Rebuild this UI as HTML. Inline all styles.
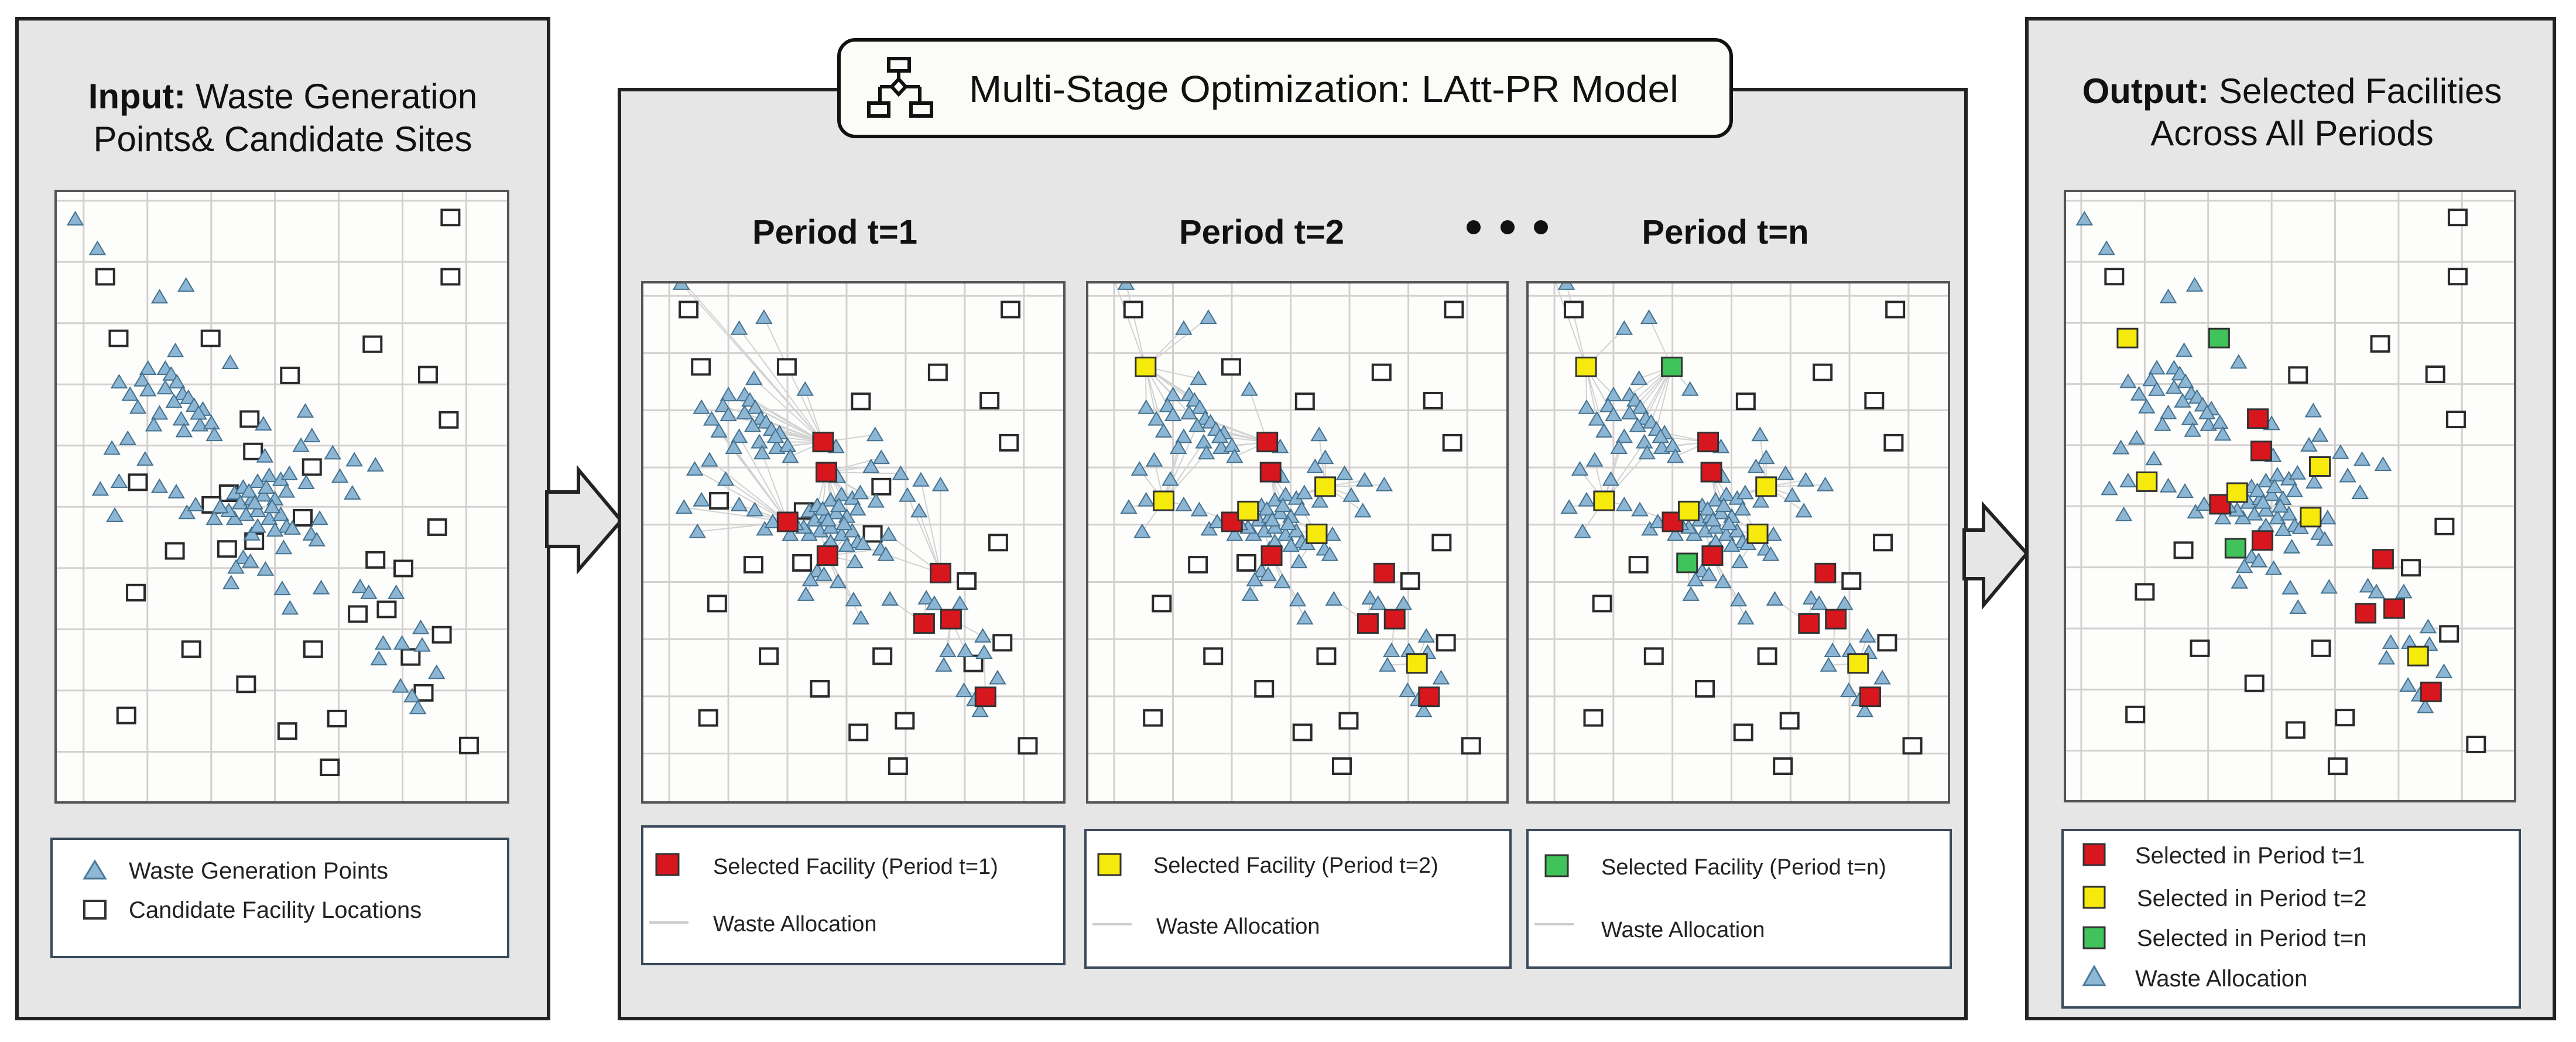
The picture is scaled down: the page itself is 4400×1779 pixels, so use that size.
<!DOCTYPE html>
<html><head><meta charset="utf-8"><title>LAtt-PR multi-stage facility selection</title>
<style>
html,body{margin:0;padding:0;background:#fff;}
svg{display:block;font-family:"Liberation Sans",sans-serif;}
</style></head>
<body>
<svg id="fig" width="4400" height="1779" viewBox="0 0 4400 1779" xmlns="http://www.w3.org/2000/svg">
  <defs>
    <clipPath id="clipL"><rect x="95" y="326" width="773" height="1044"/></clipPath>
    <clipPath id="clipT1"><rect x="1097" y="482" width="721" height="888"/></clipPath>
    <clipPath id="clipT2"><rect x="1857" y="482" width="718" height="888"/></clipPath>
    <clipPath id="clipTn"><rect x="2609" y="482" width="720" height="888"/></clipPath>
    <clipPath id="clipR"><rect x="3527" y="326" width="769" height="1042"/></clipPath>
  </defs>

  <rect x="29" y="32" width="908" height="1707" fill="#e6e6e6" stroke="#222" stroke-width="6"/>
  <text x="483" y="185" text-anchor="middle" font-size="60" fill="#111"><tspan font-weight="bold">Input:</tspan> Waste Generation</text>
  <text x="483" y="258" text-anchor="middle" font-size="60" fill="#111">Points&amp; Candidate Sites</text>

  <polygon points="934,840 988,840 988,802 1061,889 988,973 988,933 934,933" fill="#e6e6e6" stroke="#222" stroke-width="6"/>

  <rect x="1058" y="153" width="2300" height="1586" fill="#e6e6e6" stroke="#222" stroke-width="6"/>
  <rect x="1433" y="68" width="1524" height="165" rx="28" fill="#fbfbf8" stroke="#111" stroke-width="6"/>
  <g fill="none" stroke="#111" stroke-width="6">
    <rect x="1518" y="100" width="35" height="21"/>
    <line x1="1535" y1="121" x2="1535" y2="136"/>
    <polygon points="1535,135 1547,148 1535,161 1523,148" fill="#fff"/>
    <line x1="1503" y1="148" x2="1523" y2="148"/>
    <line x1="1547" y1="148" x2="1571" y2="148"/>
    <line x1="1503" y1="148" x2="1503" y2="176"/>
    <line x1="1571" y1="148" x2="1571" y2="176"/>
    <rect x="1484" y="176" width="34" height="22"/>
    <rect x="1556" y="176" width="35" height="22"/>
  </g>
  <text x="1655" y="174" font-size="64" fill="#111" textLength="1212" lengthAdjust="spacingAndGlyphs">Multi-Stage Optimization: LAtt-PR Model</text>

  <text x="1426" y="416" text-anchor="middle" font-size="58" font-weight="bold" fill="#111">Period t=1</text>
  <text x="2155" y="416" text-anchor="middle" font-size="58" font-weight="bold" fill="#111">Period t=2</text>
  <g fill="#111">
    <circle cx="2517" cy="388" r="12"/><circle cx="2575" cy="388" r="12"/><circle cx="2632" cy="388" r="12"/>
  </g>
  <text x="2947" y="416" text-anchor="middle" font-size="58" font-weight="bold" fill="#111">Period t=n</text>

  <polygon points="3355,905 3388,905 3388,863 3462,945 3388,1033 3388,988 3355,988" fill="#e6e6e6" stroke="#222" stroke-width="6"/>

  <rect x="3462" y="32" width="901" height="1707" fill="#e6e6e6" stroke="#222" stroke-width="6"/>
  <text x="3915" y="176" text-anchor="middle" font-size="60" fill="#111"><tspan font-weight="bold">Output:</tspan> Selected Facilities</text>
  <text x="3915" y="248" text-anchor="middle" font-size="60" fill="#111">Across All Periods</text>

  <g id="plots"></g>

  <g>
    <rect x="88" y="1432" width="780" height="202" fill="#fff" stroke="#3a4a5a" stroke-width="4"/>
    <polygon points="162,1470 144,1500 180,1500" fill="#8fb8d6" stroke="#4a7a9a" stroke-width="3"/>
    <text x="220" y="1500" font-size="40" fill="#222">Waste Generation Points</text>
    <rect x="144" y="1538" width="36" height="30" fill="#fff" stroke="#333" stroke-width="4"/>
    <text x="220" y="1567" font-size="40" fill="#222">Candidate Facility Locations</text>
  </g>

  <g>
    <rect x="1097" y="1411" width="721" height="235" fill="#fff" stroke="#3a4a5a" stroke-width="4"/>
    <rect x="1121" y="1458" width="38" height="36" fill="#d8161e" stroke="#333" stroke-width="3"/>
    <text x="1218" y="1492" font-size="38" fill="#222">Selected Facility (Period t=1)</text>
    <line x1="1109" y1="1575" x2="1176" y2="1575" stroke="#ccc" stroke-width="4"/>
    <text x="1218" y="1590" font-size="38" fill="#222">Waste Allocation</text>
  </g>
  <g>
    <rect x="1854" y="1417" width="726" height="235" fill="#fff" stroke="#3a4a5a" stroke-width="4"/>
    <rect x="1876" y="1458" width="38" height="36" fill="#f5ea0c" stroke="#333" stroke-width="3"/>
    <text x="1970" y="1490" font-size="38" fill="#222">Selected Facility (Period t=2)</text>
    <line x1="1866" y1="1578" x2="1933" y2="1578" stroke="#ccc" stroke-width="4"/>
    <text x="1975" y="1594" font-size="38" fill="#222">Waste Allocation</text>
  </g>
  <g>
    <rect x="2609" y="1417" width="723" height="235" fill="#fff" stroke="#3a4a5a" stroke-width="4"/>
    <rect x="2640" y="1460" width="38" height="36" fill="#3fc35a" stroke="#333" stroke-width="3"/>
    <text x="2735" y="1493" font-size="38" fill="#222">Selected Facility (Period t=n)</text>
    <line x1="2621" y1="1578" x2="2688" y2="1578" stroke="#ccc" stroke-width="4"/>
    <text x="2735" y="1600" font-size="38" fill="#222">Waste Allocation</text>
  </g>

  <g>
    <rect x="3523" y="1417" width="781" height="303" fill="#fff" stroke="#3a4a5a" stroke-width="4"/>
    <rect x="3559" y="1441" width="36" height="36" fill="#d8161e" stroke="#333" stroke-width="3"/>
    <text x="3647" y="1474" font-size="40" fill="#222">Selected in Period t=1</text>
    <rect x="3559" y="1514" width="36" height="36" fill="#f5ea0c" stroke="#333" stroke-width="3"/>
    <text x="3650" y="1547" font-size="40" fill="#222">Selected in Period t=2</text>
    <rect x="3559" y="1583" width="36" height="36" fill="#3fc35a" stroke="#333" stroke-width="3"/>
    <text x="3650" y="1615" font-size="40" fill="#222">Selected in Period t=n</text>
    <polygon points="3577,1650 3559,1682 3595,1682" fill="#8fb8d6" stroke="#4a7a9a" stroke-width="3"/>
    <text x="3647" y="1684" font-size="40" fill="#222">Waste Allocation</text>
  </g>
</svg>

<script>
const wasteX = [68,145,360,452,415,605,320,220,300,380,400,420,258,285,320,380,440,460,410,480,510,360,340,435,500,540,445,550,495,250,195,310,155,220,360,418,205,455,485,550,720,865,888,850,725,960,1035,1108,985,868,1028,620,650,700,740,780,810,640,680,720,760,800,660,700,740,780,620,600,570,800,760,820,915,885,905,790,680,650,625,675,727,608,785,920,812,1055,1085,1180,1265,1135,1200,1270,1120,1320,1195,1235,1255,700,730,670,750,690];
const wasteY = [72,148,272,242,410,440,455,490,485,455,470,490,522,555,510,505,520,530,540,550,560,570,600,585,600,595,615,625,570,635,660,688,765,745,758,772,832,825,805,840,598,565,628,653,680,672,690,703,732,748,775,775,760,745,730,740,725,800,790,780,790,770,830,820,840,830,840,820,810,860,870,865,840,880,895,915,880,940,965,950,970,1005,1020,1018,1070,1015,1030,1030,1120,1160,1160,1165,1200,1235,1270,1295,1325,860,760,770,810,800];
const candX = [1368,1368,172,218,537,1098,812,1290,672,1362,684,888,285,600,540,856,1322,413,594,688,1108,1205,278,1047,1147,470,892,1338,1230,660,1275,245,803,975,1432,950];
const candY = [68,220,220,378,378,393,473,471,585,587,668,708,747,775,805,838,862,923,918,898,946,968,1030,1085,1073,1175,1175,1138,1195,1265,1287,1345,1385,1353,1422,1478];
const selectedT1 = [8,10,14,19,20,23,24,30];
const selectedT2 = [3,12,13,11,15,28];
const selectedTn = [4,18];

const NS = 'http://www.w3.org/2000/svg';
const root = document.getElementById('plots');
const COL = {t1:'#d8161e', t2:'#f5ea0c', tn:'#3fc35a'};

const plots = [
  {name:'input-map', x:95, y:326, w:773, h:1044, v0:0, vs:1568, clip:'clipL', gx0:97/1568, gdx:221/1568, gy0:25/1568, gdy:157/1568, periods:[], lines:false},
  {name:'period-1-map', x:1097, y:482, w:721, h:888, v0:145, vs:1433, clip:'clipT1', gx0:0.064, gdx:0.140, gy0:0.026, gdy:0.110, periods:['t1'], lines:true},
  {name:'period-2-map', x:1857, y:482, w:718, h:888, v0:145, vs:1433, clip:'clipT2', gx0:0.064, gdx:0.140, gy0:0.026, gdy:0.110, periods:['t1','t2'], lines:true},
  {name:'period-n-map', x:2609, y:482, w:720, h:888, v0:145, vs:1433, clip:'clipTn', gx0:0.064, gdx:0.140, gy0:0.026, gdy:0.110, periods:['t1','t2','tn'], lines:true},
  {name:'output-map', x:3527, y:326, w:769, h:1042, v0:0, vs:1568, clip:'clipR', gx0:57/1568, gdx:221/1568, gy0:25/1568, gdy:157/1568, periods:['t1','t2','tn'], lines:false}
];
const selMap = {t1:selectedT1, t2:selectedT2, tn:selectedTn};

function mk(tag, attrs, parent){
  const e = document.createElementNS(NS, tag);
  for (const k in attrs) e.setAttribute(k, attrs[k]);
  parent.appendChild(e);
  return e;
}

plots.forEach(p => {
  const sx = u => p.x + u/1568*p.w;
  const sy = v => p.y + (v - p.v0)/p.vs*p.h;
  const g = document.createElementNS(NS,'g');
  
  
  root.appendChild(g);
  const bg = mk('rect',{x:p.x,y:p.y,width:p.w,height:p.h,fill:'#fdfdfb'},g);
  
  
  const inner = mk('g',{'clip-path':'url(#'+p.clip+')'},g);
  for (let f = p.gx0; f < 1; f += p.gdx) {
    const l = mk('line',{x1:p.x+f*p.w,x2:p.x+f*p.w,y1:p.y,y2:p.y+p.h,stroke:'#d4d0d0','stroke-width':3},inner);
    
    
  }
  for (let f = p.gy0; f < 1; f += p.gdy) {
    const l = mk('line',{x1:p.x,x2:p.x+p.w,y1:p.y+f*p.h,y2:p.y+f*p.h,stroke:'#d4d0d0','stroke-width':3},inner);
    
    
  }
  const sel = [];
  p.periods.forEach(pr => selMap[pr].forEach(i => sel.push({i:i, c:COL[pr]})));
  const selIdx = new Set(sel.map(s => s.i));
  if (p.lines && sel.length) {
    for (let k = 0; k < wasteX.length; k++) {
      let best = null, bd = 1e18;
      sel.forEach(s => {
        const d = (candX[s.i]-wasteX[k])**2 + (candY[s.i]-wasteY[k])**2;
        if (d < bd) { bd = d; best = s.i; }
      });
      if (bd < 70*70) continue;
      const l = mk('line',{x1:sx(wasteX[k]),y1:sy(wasteY[k]),x2:sx(candX[best]),y2:sy(candY[best]),stroke:'#d2d2d2','stroke-width':2},inner);
      
      
    }
  }
  for (let i = 0; i < candX.length; i++) {
    if (selIdx.has(i)) continue;
    const r = mk('rect',{x:sx(candX[i])-15,y:sy(candY[i])-13,width:30,height:26,fill:'#fff',stroke:'#2a2a2a','stroke-width':4},inner);
    
    
  }
  for (let k = 0; k < wasteX.length; k++) {
    const cx = sx(wasteX[k]), cy = sy(wasteY[k]);
    const t = mk('polygon',{points:`${cx},${cy-12} ${cx-13},${cy+10} ${cx+13},${cy+10}`,fill:'#8db6d4',stroke:'#44728f','stroke-width':2},inner);
    
    
  }
  sel.forEach(s => {
    const r = mk('rect',{x:sx(candX[s.i])-17,y:sy(candY[s.i])-16,width:34,height:32,fill:s.c,stroke:'#333','stroke-width':3},inner);
    
    
  });
  const fr = mk('rect',{x:p.x,y:p.y,width:p.w,height:p.h,fill:'none',stroke:'#555','stroke-width':4},g);
  
  
});
</script>
</body></html>
